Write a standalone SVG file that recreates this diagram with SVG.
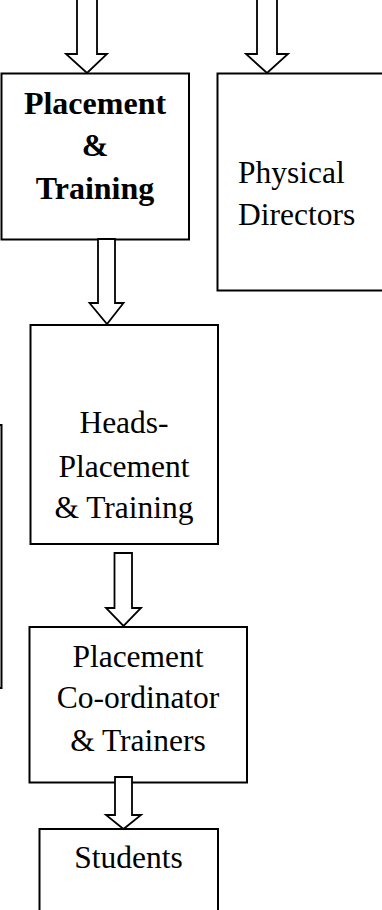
<svg xmlns="http://www.w3.org/2000/svg" width="382" height="910" viewBox="0 0 382 910">
<style>
.box{fill:#fff;stroke:#000;stroke-width:2}
.arr{fill:#fff;stroke:#000;stroke-width:1.8;stroke-linejoin:miter}
text{font-family:"Liberation Serif","Times New Roman",serif;font-size:31.5px;fill:#000;text-anchor:middle}
.b{font-weight:bold;font-size:32px}
</style>
<rect width="382" height="910" fill="#fff"/>
<g id="node-offscreen-left"><rect class="box" x="-100" y="425" width="101.5" height="263"/></g>
<g id="node-placement-training">
<rect class="box" x="1.5" y="73.5" width="187.5" height="166"/>
<text class="b" x="95" y="114">Placement</text>
<text class="b" x="95" y="156">&amp;</text>
<text class="b" x="95" y="199">Training</text>
</g>
<g id="node-physical-directors">
<rect class="box" x="217.5" y="73.5" width="180" height="217"/>
<text x="238" y="183" style="text-anchor:start">Physical</text>
<text x="238" y="225" style="text-anchor:start">Directors</text>
</g>
<g id="node-heads">
<rect class="box" x="30.5" y="325" width="187.5" height="219"/>
<text x="124" y="433">Heads-</text>
<text x="124" y="477">Placement</text>
<text x="124" y="518">&amp; Training</text>
</g>
<g id="node-coordinator">
<rect class="box" x="29.5" y="627" width="217.5" height="155.5"/>
<text x="138" y="667">Placement</text>
<text x="138" y="708">Co-ordinator</text>
<text x="138" y="751">&amp; Trainers</text>
</g>
<g id="node-students">
<rect class="box" x="39.5" y="829" width="178.5" height="120"/>
<text x="128.5" y="868">Students</text>
</g>
<g id="connectors">
<polygon class="arr" points="77,-5 97,-5 97,54 107,54 87,73 66,54 77,54"/>
<polygon class="arr" points="257,-5 277,-5 277,54 288,54 267,73 246,54 257,54"/>
<polygon class="arr" points="98,239 115,239 115,303 123.5,303 107,324 89.5,303 98,303"/>
<polygon class="arr" points="114.5,553 132,553 132,608 141,608 123.5,626 106,608 114.5,608"/>
<polygon class="arr" points="115,777 132,777 132,815 141,815 123.5,829 106,815 115,815"/>
</g>
</svg>
